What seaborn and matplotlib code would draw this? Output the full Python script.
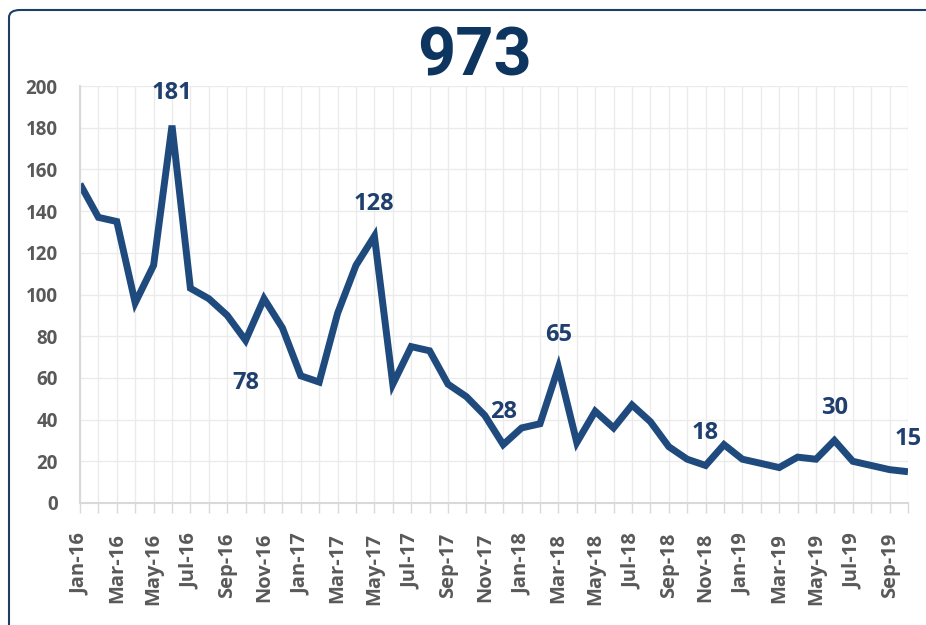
import matplotlib
matplotlib.use("Agg")
import matplotlib.pyplot as plt
import seaborn as sns
import pandas as pd
import numpy as np
from matplotlib.patches import FancyBboxPatch

months = ["Jan-16","Feb-16","Mar-16","Apr-16","May-16","Jun-16","Jul-16","Aug-16","Sep-16","Oct-16","Nov-16","Dec-16",
          "Jan-17","Feb-17","Mar-17","Apr-17","May-17","Jun-17","Jul-17","Aug-17","Sep-17","Oct-17","Nov-17","Dec-17",
          "Jan-18","Feb-18","Mar-18","Apr-18","May-18","Jun-18","Jul-18","Aug-18","Sep-18","Oct-18","Nov-18","Dec-18",
          "Jan-19","Feb-19","Mar-19","Apr-19","May-19","Jun-19","Jul-19","Aug-19","Sep-19","Oct-19"]
values = [153, 137, 135, 96, 114, 181, 103, 98, 90, 78, 98, 84,
          61, 58, 91, 114, 128, 57, 75, 73, 57, 51, 42, 28,
          36, 38, 65, 29, 44, 36, 47, 39, 27, 21, 18, 28,
          21, 19, 17, 22, 21, 30, 20, 18, 16, 15]
labelled = {"Jun-16": "above", "Oct-16": "below", "May-17": "above", "Dec-17": "above",
            "Mar-18": "above", "Nov-18": "above", "Jun-19": "above", "Oct-19": "above"}
title = "973"

df = pd.DataFrame({"idx": np.arange(len(months)), "month": months, "value": values})

sns.set_style("white")
plt.rcParams['font.family'] = ['Open Sans', 'DejaVu Sans']

W, H = 926, 625
fig = plt.figure(figsize=(W/100, H/100), dpi=100)
ax = fig.add_axes([80/W, 1-503/H, (908-80)/W, (503-86)/H])

line_color = "#1f4a7e"
sns.lineplot(data=df, x="idx", y="value", ax=ax, color=line_color, linewidth=5,
             solid_joinstyle="miter", solid_capstyle="butt")

ax.set_xlim(0, len(months)-1)
ax.set_ylim(0, 200)
ax.set_yticks(range(0, 201, 20))
ax.set_xticks(range(len(months)), minor=True)
ax.set_xticks(range(0, len(months), 2))
ax.set_xticklabels([months[i] for i in range(0, len(months), 2)], rotation=90)
ax.set_xlabel("")
ax.set_ylabel("")
ax.grid(True, which="both", axis="x", color="#ebebeb", linewidth=1)
ax.grid(True, which="major", axis="y", color="#ebebeb", linewidth=1)
ax.set_axisbelow(True)
for s in ["top", "right"]:
    ax.spines[s].set_visible(False)
for s in ["left", "bottom"]:
    ax.spines[s].set_color("#d9d9d9")
    ax.spines[s].set_linewidth(1.5)
ax.tick_params(axis="x", which="both", length=7.5, color="#d9d9d9", width=1, direction="out", bottom=True)
ax.tick_params(axis="x", labelsize=14.5, labelcolor="#595959", pad=14)
ax.tick_params(axis="y", length=0, labelsize=13.5, labelcolor="#595959", pad=16)
for t in ax.get_xticklabels() + ax.get_yticklabels():
    t.set_fontweight("bold")

label_color = "#1f3f6e"
for i, m in enumerate(months):
    if m in labelled:
        v = values[i]
        off = 19 if labelled[m] == "above" else -35
        ax.annotate(str(v), (i, v), xytext=(0, off), textcoords="offset points",
                    ha="center", va="baseline", fontsize=17, fontweight="bold", color=label_color,
                    annotation_clip=False)

fig.text(475/W, 1-75/H, title, ha="center", va="baseline", fontsize=48, fontweight="bold",
         color="#0d3560", family=["Roboto", "DejaVu Sans"])

frame = FancyBboxPatch((9/W, -0.1), 1.2, (1-10/H)+0.1, boxstyle="round,pad=0,rounding_size=0.012",
                       transform=fig.transFigure, facecolor="none", edgecolor="#1c3f66",
                       linewidth=1.5, figure=fig)
fig.patches.append(frame)

fig.savefig("out.png", dpi=100)
